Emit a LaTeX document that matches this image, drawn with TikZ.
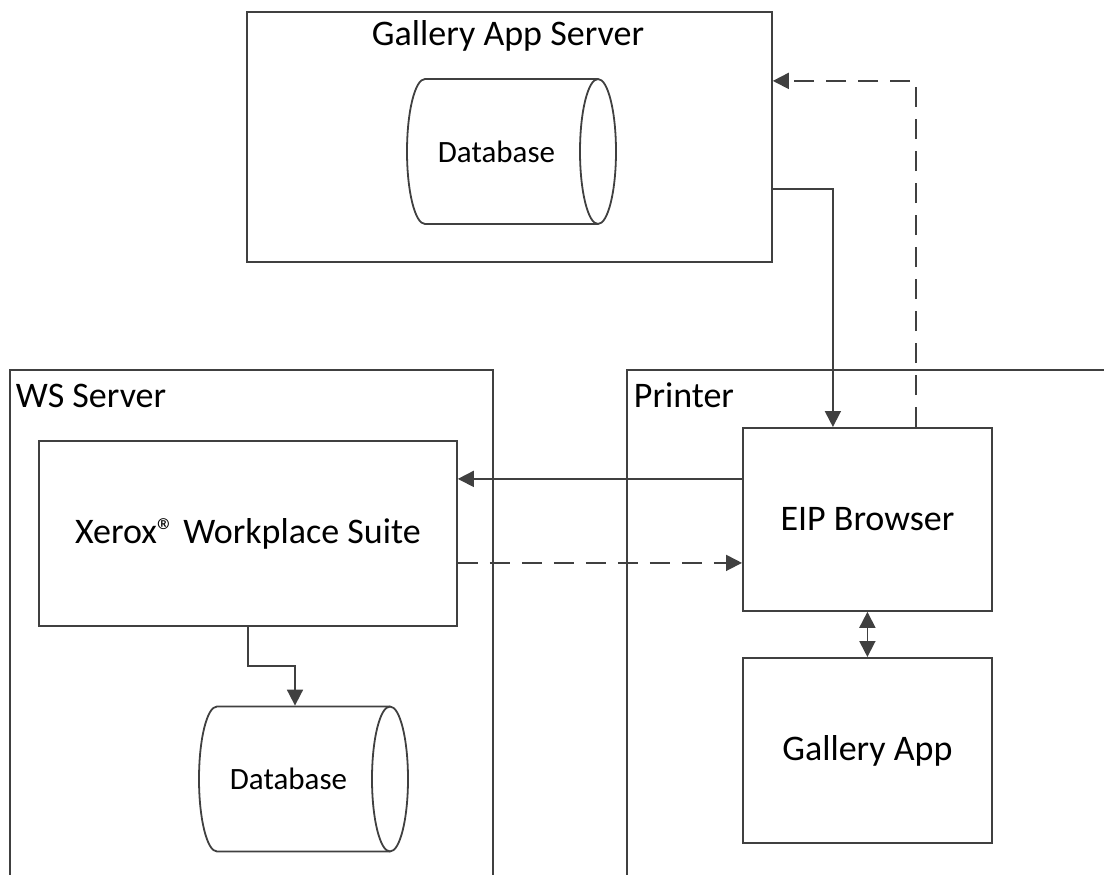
\documentclass[tikz,border=0pt]{standalone}
\usepackage{fontspec}
\setmainfont{Carlito}
\usetikzlibrary{arrows.meta,positioning}
\definecolor{linegray}{HTML}{404040}
% database drum round a text node
\newcommand\dbcan[1]{%
  \draw ([xshift=-71.5pt,yshift=72.5pt]#1.center)
    arc[start angle=270, end angle=90, x radius=18, y radius=72.5]
    -- ++(173,0)
    arc[start angle=90, end angle=-90, x radius=18, y radius=72.5]
    -- cycle;
  \draw ([xshift=101.5pt,yshift=72.5pt]#1.center)
    arc[start angle=270, end angle=90, x radius=18, y radius=72.5];}

\begin{document}
\begin{tikzpicture}[x=1pt, y=-1pt, line width=1.8pt, color=linegray, text=black,
  font=\fontsize{36}{43}\selectfont,
  >={Triangle[length=16pt,width=16pt]},
  box/.style={draw, rectangle, inner sep=0pt, anchor=north west},
  title/.style={inner sep=0pt},
  db/.style={inner sep=0pt, minimum height=145pt, font=\fontsize{31}{37}\selectfont},
  conn/.style={->},
  back/.style={->, dash pattern=on 20pt off 12pt}]
  \path[use as bounding box, clip] (0,0) rectangle (1104,875);

  % servers and printer
  \node[box, minimum width=525pt, minimum height=250pt] (gsrv) at (246,11) {};
  \node[title, anchor=base] (gsrvtitle) at (508,46) {Gallery App Server};
  \node[db] (gdb) at (496.5,151.5) {Database};
  \dbcan{gdb}

  \node[box, minimum width=483pt, minimum height=506pt] (wssrv) at (9,369) {};
  \node[title, anchor=base west] (wstitle) at (15,407) {WS Server};
  \node[box, minimum width=500pt, minimum height=506pt] (prn) at (626,369) {};
  \node[title, anchor=base west] (prntitle) at (633,407) {Printer};

  % components
  \node[box, minimum width=418pt, minimum height=185pt] (xws) at (38,440)
    {Xerox\textregistered{} Workplace Suite};
  \node[db] (wdb) at (288.5,779) {Database};
  \dbcan{wdb}
  \node[box, minimum width=249pt, minimum height=183pt] (eip) at (742,427) {EIP Browser};
  \node[box, minimum width=249pt, minimum height=185pt] (gapp) at (742,657) {Gallery App};

  % connections
  \draw[conn] ([yshift=-52pt]gsrv.east) -| ([xshift=-34.5pt]eip.north);
  \draw[back] ([xshift=48.5pt]eip.north) |- ([yshift=56pt]gsrv.east);
  \draw[conn] ([yshift=40.5pt]eip.west) coordinate (eipout) -- (xws.east |- eipout);
  \draw[back] ([yshift=-29.5pt]xws.east) coordinate (xwsout) -- (eip.west |- xwsout);
  \draw[<->] (eip.south) -- (gapp.north);
  \draw[conn] (xws.south) -- ++(0,39) -| ([xshift=6.5pt]wdb.north);
\end{tikzpicture}
\end{document}
